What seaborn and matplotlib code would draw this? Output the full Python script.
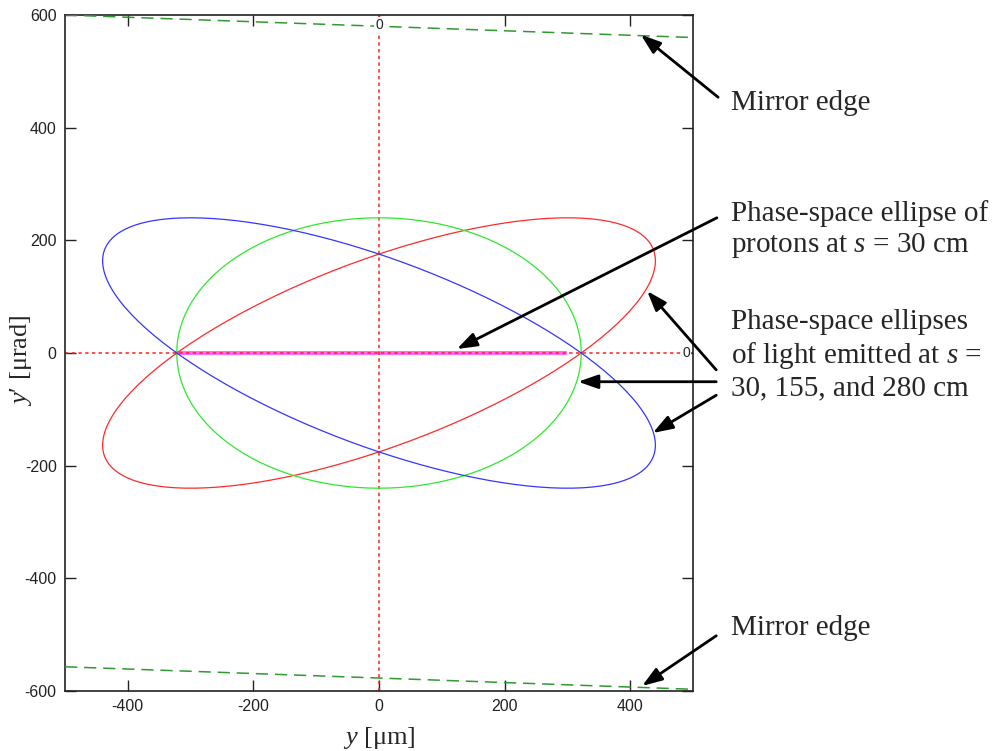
import numpy as np
import pandas as pd
import matplotlib
matplotlib.use("Agg")
import matplotlib.pyplot as plt
import seaborn as sns

# ---- values -------------------------------------------------------------
# light phase-space ellipses: common half-width (um), half-angle (urad)
light_half_width = 322.0
light_half_angle = 240.0
# emission points s (cm) and the shear (um per urad) each one gets
emit_s_cm = [30, 155, 280]
emit_shear = [1.25, 0.0, -1.25]
emit_colors = ["#ff2a2a", "#2ee82e", "#3535ff"]

# proton ellipse at s = 30 cm (collapsed to a line)
proton_y = [-325.0, 300.0]
proton_yp = [0.0, 0.0]

# mirror edges (y in um, y' in urad)
mirror_y = [-500.0, 500.0]
mirror_top = [600.0, 560.0]
mirror_bottom = [-557.0, -597.0]

x_ticks = [-400, -200, 0, 200, 400]
y_ticks = [-600, -400, -200, 0, 200, 400, 600]

# ---- style --------------------------------------------------------------
sns.set_theme(style="ticks")
plt.rcParams["font.family"] = ["Liberation Sans", "DejaVu Sans"]
plt.rcParams["mathtext.fontset"] = "custom"
plt.rcParams["mathtext.rm"] = "Liberation Serif"
plt.rcParams["mathtext.it"] = "Liberation Serif:italic"
plt.rcParams["axes.unicode_minus"] = False

fig = plt.figure(figsize=(9.93, 7.51), dpi=100)
ax = fig.add_axes([65 / 993, 60 / 751, 628 / 993, 676 / 751])

# ellipse outlines built from the shear of an upright ellipse
t = np.linspace(0, 2 * np.pi, 241)
frames = []
for s_cm, k in zip(emit_s_cm, emit_shear):
    yp = light_half_angle * np.sin(t)
    y = light_half_width * np.cos(t) + k * yp
    frames.append(pd.DataFrame({"y": y, "yp": yp, "s": f"{s_cm} cm"}))
ell = pd.concat(frames, ignore_index=True)

# proton line under the axis markers
sns.lineplot(x=proton_y, y=proton_yp, ax=ax, color="#ff66ff", lw=2.8,
             solid_capstyle="butt", zorder=2)

for (s_lab, grp), col in zip(ell.groupby("s", sort=False), emit_colors):
    sns.lineplot(data=grp, x="y", y="yp", sort=False, estimator=None,
                 ax=ax, color=col, lw=0.9, zorder=3)

# red dotted markers through the origin
ax.axvline(0, color="#ff2020", lw=1.1, ls=(0, (2.2, 2.2)), zorder=2.5)
ax.axhline(0, color="#ff2020", lw=1.1, ls=(0, (2.2, 2.2)), zorder=2.5)

# mirror edges
for edge in (mirror_top, mirror_bottom):
    sns.lineplot(x=mirror_y, y=edge, ax=ax, color="#2f9a2f", lw=1.1,
                 zorder=3).lines[-1].set_dashes((8, 4.5))

ax.text(0, 582, "0", ha="center", va="center", fontsize=10, color="#222222",
        bbox=dict(fc="white", ec="none", pad=0.6), zorder=4)
ax.text(489, 0, "0", ha="center", va="center", fontsize=10, color="#222222",
        bbox=dict(fc="white", ec="none", pad=0.6), zorder=4)

ax.set_xlim(-500, 500)
ax.set_ylim(-600, 600)
ax.set_xticks(x_ticks)
ax.set_yticks(y_ticks)
ax.tick_params(direction="in", length=8, width=1.0, labelsize=11.5,
               top=True, right=True, colors="#222222", pad=6)
for sp in ax.spines.values():
    sp.set_linewidth(1.2)
    sp.set_color("#222222")

serif = ["Liberation Serif", "DejaVu Serif"]
ax.set_xlabel("$y$ [μm]", fontsize=19, family=serif)
ax.set_ylabel("$y$′ [μrad]", fontsize=19, family=serif)
ax.xaxis.set_label_coords(0.5, -0.05)
ax.yaxis.set_label_coords(-0.05, 0.49)

# annotations
tkw = dict(fontsize=21, family=serif, ha="left", va="center", clip_on=False,
           linespacing=1.2)
ax.text(560, 444, "Mirror edge", **tkw)
ax.text(560, -488, "Mirror edge", **tkw)
ax.text(560, 219, "Phase-space ellipse of\nprotons at $s$ = 30 cm", **tkw)
ax.text(560, -4, "Phase-space ellipses\nof light emitted at $s$ =\n30, 155, and 280 cm", **tkw)

akw = dict(arrowstyle="-|>,head_length=1.0,head_width=0.35", color="black", lw=2.0,
           shrinkA=0, shrinkB=0)
arrows = [
    ((540, 454), (417, 565)),
    ((537, -502), (419, -591)),
    ((538, 240), (124, 7)),
    ((537, -30), (427, 110)),
    ((537, -51), (317, -51)),
    ((537, -75), (436, -142)),
]
for tail, head in arrows:
    ax.annotate("", xy=head, xytext=tail, arrowprops=akw, annotation_clip=False,
                zorder=5)

fig.savefig("out.png", dpi=100, facecolor="white")
